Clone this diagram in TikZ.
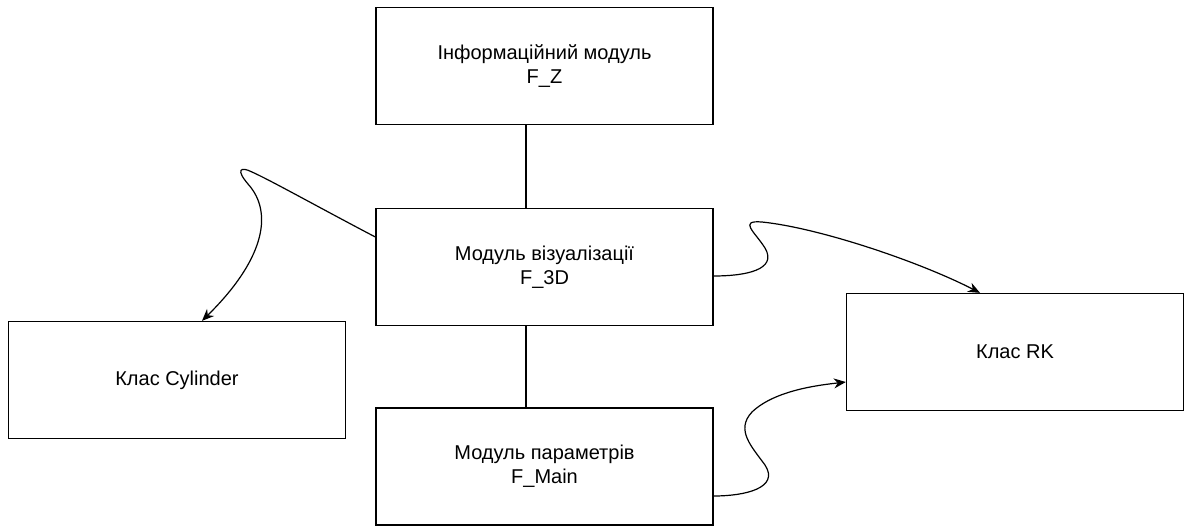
\documentclass[tikz,border=0pt]{standalone}
\usepackage{fontspec}
\setmainfont{Liberation Sans}
\usetikzlibrary{arrows.meta}
\begin{document}
\begin{tikzpicture}[x=1pt,y=-1pt,
  box/.style={draw, line width=1.3pt, minimum width=337pt, minimum height=117pt, align=center, inner sep=0pt,
    font=\fontsize{20}{24}\selectfont},
  conn/.style={line width=1.2pt},
  arr/.style={line width=1.2pt, -{Stealth[length=12pt,width=10pt]}}]
\useasboundingbox (0,0) rectangle (1184,531);
\node[box] (top) at (544.5,66) {Інформаційний модуль\\F\_Z};
\node[box] (mid) at (544.5,267) {Модуль візуалізації\\F\_3D};
\node[box] (bot) at (544.5,466.5) {Модуль параметрів\\F\_Main};
\node[box] (left) at (177,380) {Клас Cylinder};
\node[box] (right) at (1015,352) {Клас RK};
\draw[conn] ([xshift=-18.5pt]top.south) -- ([xshift=-18.5pt]mid.north);
\draw[conn] ([xshift=-18.5pt]mid.south) -- ([xshift=-18.5pt]bot.north);
\draw[arr] ([yshift=30pt]mid.west) .. controls (320,208) and (270,180) .. (252,172)
  .. controls (240,166) and (236,170) .. (248,184)
  .. controls (275,214) and (262,262) .. ([xshift=25pt]left.north);
\draw[arr] ([yshift=-9pt]mid.east) .. controls (745,276) and (778,270) .. (765,248)
  .. controls (755,232) and (738,220) .. (762,222)
  .. controls (820,228) and (920,262) .. ([xshift=-35pt]right.north);
\draw[arr] ([yshift=-29.5pt]bot.east) .. controls (745,496) and (780,488) .. (765,465)
  .. controls (752,447) and (735,430) .. (752,412)
  .. controls (775,390) and (820,385) .. ([yshift=-30pt]right.west);
\end{tikzpicture}
\end{document}
